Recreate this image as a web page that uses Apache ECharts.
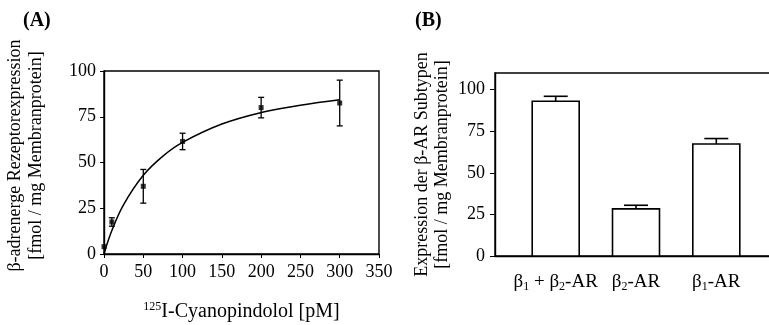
<!DOCTYPE html>
<html>
<head>
<meta charset="UTF-8">
<title>beta-AR</title>
<script src="https://cdn.jsdelivr.net/npm/echarts@6/dist/echarts.min.js"></script>
<style>
  html, body { margin: 0; padding: 0; background: #fff; }
  #container { width: 769px; height: 325px; }
</style>
</head>
<body>
<div id="container"></div>
<script type="text/javascript">
// (A) Saettigung: Konzentration [pM] vs. Bindung
var concA = [0, 10, 50, 100, 200, 300];
var bindA = [4, 17.5, 37, 61.5, 80, 82.5];
var semA = [0, 2.3, 9.2, 4.5, 5.6, 12.5];
// Kurve
var curveX = [0, 10, 25, 50, 75, 100, 150, 200, 250, 300];
var curveY = [0, 12.8, 27, 43, 53.5, 61, 71, 77.3, 81.3, 84.3];

// (B) Subtypen
var subtypes = ['β_1 + β_2-AR', 'β_2-AR', 'β_1-AR'];
var subPos = [1, 2, 3];
var subMean = [93, 28.3, 67.3];
var subErr = [3, 2.2, 3.3];
var yTicksB = [0, 25, 50, 75, 100];

var FONT = 'Liberation Serif';
var dom = document.getElementById('container');
var myChart = echarts.init(dom);

function richLabel(s) {
	// "β_1" -> β mit tiefgestellter 1
	return s.split(/_(\d)/).map(function (p, i) {
		return i % 2 ? '{s|' + p + '}' : (p ? '{t|' + p + '}' : '');
	}).join('');
}

var labelRich = {
	t: { fontFamily: FONT, fontSize: 19, color: '#000', lineHeight: 22 },
	s: { fontFamily: FONT, fontSize: 12, color: '#000', lineHeight: 22, verticalAlign: 'bottom' }
};

var axisText = { fontFamily: FONT, fontSize: 18, color: '#000' };
var lineBlack = { lineStyle: { color: '#000', width: 1.4 } };

var option = {
	animation: false,
	title: [
		{ text: '(A)', left: 18, top: 6, textStyle: { fontFamily: FONT, fontSize: 20, fontWeight: 'bold', color: '#000' } },
		{ text: '(B)', left: 410, top: 6, textStyle: { fontFamily: FONT, fontSize: 20, fontWeight: 'bold', color: '#000' } }
	],
	grid: [
		{ left: 104, right: 390, top: 71, bottom: 71, outerBoundsMode: 'none', show: true, borderColor: '#000', borderWidth: 1.4 },
		{ left: 495, right: -6, top: 73, bottom: 69, outerBoundsMode: 'none', show: true, borderColor: '#000', borderWidth: 1.4 }
	],
	xAxis: [
		{
			gridIndex: 0, type: 'value', min: 0, max: 350, interval: 50,
			axisLine: lineBlack, axisTick: { length: 4, lineStyle: { color: '#000' } },
			axisLabel: Object.assign({ margin: 9 }, axisText),
			splitLine: { show: false },
			name: '{sup|125}{n|I-Cyanopindolol [pM]}', nameLocation: 'middle', nameGap: 47,
			nameTextStyle: {
				rich: {
					sup: { fontFamily: FONT, fontSize: 12, color: '#000', lineHeight: 22, verticalAlign: 'top' },
					n: { fontFamily: FONT, fontSize: 20, color: '#000', lineHeight: 22 }
				}
			}
		},
		{
			gridIndex: 1, type: 'value', min: 0.244, max: 3.731,
			axisLine: lineBlack, axisTick: { show: false },
			axisLabel: {
				margin: 15, customValues: subPos,
				formatter: function (v) { return richLabel(subtypes[subPos.indexOf(Math.round(v))] || ''); },
				rich: labelRich
			},
			splitLine: { show: false }
		}
	],
	yAxis: [
		{
			gridIndex: 0, type: 'value', min: 0, max: 100, interval: 25,
			axisLine: lineBlack, axisTick: { length: 4, lineStyle: { color: '#000' } },
			axisLabel: Object.assign({ margin: 8 }, axisText),
			splitLine: { show: false },
			name: 'β-adrenerge Rezeptorexpression\n[fmol / mg Membranprotein]',
			nameLocation: 'middle', nameGap: 57,
			nameTextStyle: { fontFamily: FONT, fontSize: 18, color: '#000', lineHeight: 21, padding: [0, 0, 0, 14] }
		},
		{
			gridIndex: 1, type: 'value', min: 0, max: 110, interval: 25,
			axisLine: lineBlack,
			axisTick: { length: 5, lineStyle: { color: '#000' }, customValues: yTicksB },
			axisLabel: Object.assign({ margin: 10, customValues: yTicksB }, axisText),
			splitLine: { show: false },
			name: 'Expression der β-AR Subtypen\n[fmol / mg Membranprotein]',
			nameLocation: 'middle', nameGap: 43,
			nameTextStyle: { fontFamily: FONT, fontSize: 18, color: '#000', lineHeight: 20 }
		}
	],
	series: [
		{
			type: 'line', xAxisIndex: 0, yAxisIndex: 0, smooth: 0.4, showSymbol: false,
			lineStyle: { color: '#000', width: 1.5 },
			data: curveX.map(function (x, i) { return [x, curveY[i]]; })
		},
		{
			type: 'scatter', xAxisIndex: 0, yAxisIndex: 0, symbol: 'rect', symbolSize: 5,
			itemStyle: { color: '#000' },
			data: concA.map(function (x, i) { return [x, bindA[i]]; })
		},
		{
			// Fehlerbalken (A)
			type: 'custom', xAxisIndex: 0, yAxisIndex: 0,
			data: concA.map(function (x, i) { return [x, bindA[i], semA[i]]; }),
			renderItem: function (params, api) {
				var e = api.value(2);
				if (!e) return null;
				var x = api.value(0), y = api.value(1);
				var hi = api.coord([x, y + e]), lo = api.coord([x, y - e]);
				var st = { stroke: '#000', lineWidth: 1.3 };
				return {
					type: 'group', children: [
						{ type: 'line', shape: { x1: hi[0], y1: hi[1], x2: lo[0], y2: lo[1] }, style: st },
						{ type: 'line', shape: { x1: hi[0] - 3, y1: hi[1], x2: hi[0] + 3, y2: hi[1] }, style: st },
						{ type: 'line', shape: { x1: lo[0] - 3, y1: lo[1], x2: lo[0] + 3, y2: lo[1] }, style: st }
					]
				};
			}
		},
		{
			// Balken + Fehlerbalken (B)
			type: 'custom', xAxisIndex: 1, yAxisIndex: 1,
			data: subPos.map(function (x, i) { return [x, subMean[i], subErr[i]]; }),
			renderItem: function (params, api) {
				var x = api.value(0), y = api.value(1), e = api.value(2);
				var top = api.coord([x, y]), base = api.coord([x, 0]), hi = api.coord([x, y + e]);
				var w = 47;
				var st = { stroke: '#000', lineWidth: 1.6 };
				return {
					type: 'group', children: [
						{ type: 'rect', shape: { x: top[0] - w / 2, y: top[1], width: w, height: base[1] - top[1] },
							style: { fill: '#fff', stroke: '#000', lineWidth: 1.6 } },
						{ type: 'line', shape: { x1: hi[0], y1: hi[1], x2: top[0], y2: top[1] }, style: st },
						{ type: 'line', shape: { x1: hi[0] - 12, y1: hi[1], x2: hi[0] + 12, y2: hi[1] }, style: st }
					]
				};
			}
		}
	]
};

if (option && typeof option === 'object') {
	myChart.setOption(option, true);
}
</script>
</body>
</html>
